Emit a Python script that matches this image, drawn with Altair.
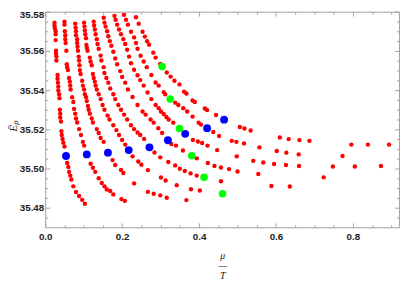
import altair as alt
import pandas as pd

# ---- data (x = mu/T, y = E_P) ----
curve1 = [(0.024,35.5744),(0.024,35.5729),(0.025,35.5714),(0.027,35.5700),(0.027,35.5685),(0.027,35.5655),
          (0.028,35.5601),(0.028,35.5586),(0.029,35.5571),(0.029,35.5551),(0.032,35.5477),(0.032,35.5458),
          (0.033,35.5438),(0.034,35.5418),(0.034,35.5398),(0.036,35.5379),(0.037,35.5359),(0.038,35.5300),
          (0.039,35.5280),(0.039,35.5260),(0.041,35.5240),(0.042,35.5191),(0.043,35.5171),(0.045,35.5151),
          (0.047,35.5132),(0.050,35.5112),(0.057,35.5028),(0.060,35.5008),(0.062,35.4983),(0.065,35.4964),
          (0.068,35.4944),(0.073,35.4909),(0.080,35.4880),(0.088,35.4860),(0.096,35.4840),(0.103,35.4820)]
curve2 = [(0.050,35.5749),(0.050,35.5734),(0.051,35.5700),(0.052,35.5680),(0.052,35.5660),(0.053,35.5640),
          (0.055,35.5601),(0.056,35.5532),(0.057,35.5517),(0.059,35.5502),(0.062,35.5462),(0.064,35.5443),
          (0.065,35.5423),(0.066,35.5403),(0.070,35.5364),(0.073,35.5339),(0.075,35.5304),(0.078,35.5280),
          (0.080,35.5255),(0.083,35.5235),(0.088,35.5201),(0.093,35.5171),(0.098,35.5136),(0.101,35.5117),
          (0.118,35.5024),(0.124,35.5004),(0.130,35.4983),(0.139,35.4950),(0.147,35.4926),(0.154,35.4909),
          (0.160,35.4893),(0.169,35.4885),(0.177,35.4868),(0.198,35.4844),(0.207,35.4835)]
curve3 = [(0.078,35.5739),(0.079,35.5719),(0.080,35.5700),(0.080,35.5680),(0.083,35.5660),(0.083,35.5640),
          (0.084,35.5621),(0.085,35.5601),(0.087,35.5571),(0.088,35.5551),(0.089,35.5527),(0.090,35.5502),
          (0.092,35.5482),(0.096,35.5448),(0.098,35.5423),(0.101,35.5403),(0.103,35.5379),(0.106,35.5364),
          (0.108,35.5344),(0.111,35.5319),(0.113,35.5300),(0.116,35.5280),(0.121,35.5255),(0.124,35.5235),
          (0.134,35.5201),(0.139,35.5181),(0.144,35.5156),(0.152,35.5136),(0.175,35.5043),(0.182,35.5018),
          (0.197,35.4993),(0.203,35.4977),(0.231,35.4924),(0.267,35.4881),(0.282,35.4871),(0.299,35.4863),
          (0.316,35.4851),(0.367,35.4839)]
curve4 = [(0.101,35.5744),(0.102,35.5724),(0.103,35.5705),(0.104,35.5685),(0.106,35.5665),(0.107,35.5630),
          (0.108,35.5616),(0.110,35.5601),(0.116,35.5566),(0.118,35.5546),(0.121,35.5527),(0.124,35.5482),
          (0.126,35.5462),(0.129,35.5443),(0.131,35.5423),(0.134,35.5403),(0.139,35.5379),(0.144,35.5354),
          (0.149,35.5324),(0.154,35.5300),(0.162,35.5270),(0.167,35.5250),(0.177,35.5221),(0.185,35.5196),
          (0.192,35.5171),(0.200,35.5146),(0.208,35.5122),(0.227,35.5062),(0.242,35.5036),(0.250,35.5019),
          (0.267,35.4992),(0.301,35.4954),(0.313,35.4939),(0.342,35.4915),(0.379,35.4894),(0.402,35.4888)]
curve5 = [(0.126,35.5749),(0.127,35.5729),(0.129,35.5709),(0.131,35.5685),(0.134,35.5660),(0.136,35.5635),
          (0.139,35.5611),(0.144,35.5576),(0.146,35.5551),(0.152,35.5517),(0.154,35.5487),(0.159,35.5462),
          (0.164,35.5438),(0.169,35.5408),(0.177,35.5379),(0.182,35.5354),(0.190,35.5324),(0.197,35.5300),
          (0.205,35.5275),(0.213,35.5250),(0.223,35.5221),(0.231,35.5201),(0.240,35.5184),(0.247,35.5171),
          (0.257,35.5151),(0.284,35.5082),(0.299,35.5057),(0.320,35.5033),(0.338,35.5016),(0.350,35.4999),
          (0.363,35.4987),(0.378,35.4975),(0.394,35.4964),(0.457,35.4935),(0.588,35.4911),(0.636,35.4908)]
curve6 = [(0.152,35.5769),(0.154,35.5744),(0.157,35.5724),(0.161,35.5700),(0.164,35.5675),(0.168,35.5650),
          (0.172,35.5626),(0.177,35.5596),(0.182,35.5561),(0.187,35.5532),(0.195,35.5497),(0.200,35.5467),
          (0.208,35.5438),(0.215,35.5403),(0.227,35.5365),(0.240,35.5324),(0.253,35.5291),(0.261,35.5275),
          (0.274,35.5250),(0.282,35.5234),(0.294,35.5206),(0.304,35.5181),(0.328,35.5125),(0.340,35.5117),
          (0.358,35.5092),(0.394,35.5052),(0.423,35.5028),(0.440,35.5013),(0.457,35.5005),(0.478,35.4997),
          (0.500,35.4985),(0.554,35.4972),(0.724,35.4955)]
curve7 = [(0.180,35.5779),(0.183,35.5759),(0.187,35.5734),(0.192,35.5709),(0.197,35.5685),(0.203,35.5660),
          (0.208,35.5635),(0.213,35.5606),(0.218,35.5571),(0.223,35.5537),(0.231,35.5504),(0.240,35.5476),
          (0.247,35.5451),(0.256,35.5423),(0.266,35.5388),(0.276,35.5354),(0.287,35.5324),(0.295,35.5308),
          (0.301,35.5291),(0.308,35.5278),(0.315,35.5263),(0.321,35.5250),(0.333,35.5234),(0.384,35.5146),
          (0.397,35.5138),(0.408,35.5130),(0.422,35.5117),(0.447,35.5094),(0.498,35.5062),(0.541,35.5039),
          (0.567,35.5031),(0.595,35.5023),(0.626,35.5018),(0.660,35.5013),(0.748,35.5010),(0.805,35.5010),
          (0.873,35.5013)]
curve8 = [(0.205,35.5784),(0.210,35.5759),(0.215,35.5734),(0.223,35.5698),(0.231,35.5669),(0.236,35.5640),
          (0.240,35.5611),(0.248,35.5575),(0.256,35.5546),(0.264,35.5517),(0.276,35.5477),(0.287,35.5439),
          (0.295,35.5423),(0.308,35.5390),(0.312,35.5379),(0.338,35.5336),(0.346,35.5324),(0.359,35.5308),
          (0.369,35.5291),(0.383,35.5265),(0.399,35.5234),(0.405,35.5224),(0.437,35.5186),(0.452,35.5166),
          (0.485,35.5141),(0.497,35.5136),(0.517,35.5128),(0.557,35.5108),(0.602,35.5089),(0.627,35.5081),
          (0.659,35.5072),(0.773,35.5064)]
curve9 = [(0.236,35.5772),(0.243,35.5739),(0.253,35.5698),(0.259,35.5673),(0.265,35.5649),(0.270,35.5632),
          (0.281,35.5591),(0.287,35.5566),(0.299,35.5533),(0.316,35.5490),(0.326,35.5469),(0.336,35.5448),
          (0.349,35.5429),(0.361,35.5392),(0.367,35.5383),(0.383,35.5347),(0.389,35.5339),(0.415,35.5306),
          (0.421,35.5298),(0.444,35.5273),(0.506,35.5212),(0.518,35.5204),(0.534,35.5194),(0.610,35.5158),
          (0.633,35.5150),(0.661,35.5145),(0.687,35.5141),(0.796,35.5122),(0.839,35.5122),(0.894,35.5122)]
blue_pts = [(0.054,35.5064),(0.108,35.5072),(0.163,35.5081),(0.217,35.5094),(0.271,35.5108),
            (0.319,35.5144),(0.364,35.5177),(0.421,35.5206),(0.465,35.5249)]
green_pts = [(0.304,35.5520),(0.325,35.5354),(0.349,35.5204),(0.381,35.5065),(0.413,35.4955),(0.461,35.4871)]

x_major = [0.0, 0.2, 0.4, 0.6, 0.8]
x_minor = [0.05, 0.1, 0.15, 0.25, 0.3, 0.35, 0.45, 0.5, 0.55, 0.65, 0.7, 0.75, 0.85, 0.9]
y_major = [35.48, 35.50, 35.52, 35.54, 35.56, 35.58]
y_minor = [35.475, 35.485, 35.49, 35.495, 35.505, 35.51, 35.515, 35.525, 35.53, 35.535,
           35.545, 35.55, 35.555, 35.565, 35.57, 35.575]

curves = [curve1, curve2, curve3, curve4, curve5, curve6, curve7, curve8, curve9]
red_df = pd.DataFrame([{"x": x, "y": y} for c in curves for (x, y) in c])
blue_df = pd.DataFrame([{"x": x, "y": y} for (x, y) in blue_pts])
green_df = pd.DataFrame([{"x": x, "y": y} for (x, y) in green_pts])

xs = alt.Scale(domain=[0, 0.92], nice=False, zero=False)
ys = alt.Scale(domain=[35.47, 35.58], nice=False, zero=False)

MAJ = 4.5
MIN = 2.5

ax_bottom = alt.Axis(orient="bottom", values=x_major, format=".1f", tickSize=MAJ, offset=-MAJ,
                     labelPadding=4, labelFlush=False, title=["μ", "—", "T"],
                     titleBaseline="alphabetic", titleY=36, titleLineHeight=10.5,
                     titleFontSize=10)
ax_left = alt.Axis(orient="left", values=y_major, format=".2f", tickSize=MAJ, offset=-MAJ,
                   labelPadding=1.5, labelFlush=False,
                   labelOffset={"condition": {"test": "datum.value >= 35.579", "value": 3}, "value": 0},
                   title="Ēₚ", titleAngle=270,
                   titleBaseline="middle", titleAlign="center", titleX=-36.5, titleY=116,
                   titleFontSize=11.5)
ax_top = alt.Axis(orient="top", values=x_major, tickSize=MAJ, offset=-MAJ, labels=False, title="")
ax_right = alt.Axis(orient="right", values=y_major, tickSize=MAJ, offset=-MAJ, labels=False, title="")
ax_bottom_m = alt.Axis(orient="bottom", values=x_minor, tickSize=MIN, offset=-MIN, labels=False, title="")
ax_left_m = alt.Axis(orient="left", values=y_minor, tickSize=MIN, offset=-MIN, labels=False, title="")
ax_top_m = alt.Axis(orient="top", values=x_minor, tickSize=MIN, offset=-MIN, labels=False, title="")
ax_right_m = alt.Axis(orient="right", values=y_minor, tickSize=MIN, offset=-MIN, labels=False, title="")

red = alt.Chart(red_df).mark_circle(size=20, color="#ff0000", opacity=1).encode(
    x=alt.X("x:Q", scale=xs, axis=ax_bottom), y=alt.Y("y:Q", scale=ys, axis=ax_left))
frame_tr = alt.Chart(red_df).mark_circle(opacity=0).encode(
    x=alt.X("x:Q", scale=xs, axis=ax_top), y=alt.Y("y:Q", scale=ys, axis=ax_right))
minor_bl = alt.Chart(red_df).mark_circle(opacity=0).encode(
    x=alt.X("x:Q", scale=xs, axis=ax_bottom_m), y=alt.Y("y:Q", scale=ys, axis=ax_left_m))
minor_tr = alt.Chart(red_df).mark_circle(opacity=0).encode(
    x=alt.X("x:Q", scale=xs, axis=ax_top_m), y=alt.Y("y:Q", scale=ys, axis=ax_right_m))
blue = alt.Chart(blue_df).mark_circle(size=64, color="#0000ff", opacity=1).encode(
    x=alt.X("x:Q", scale=xs, axis=None), y=alt.Y("y:Q", scale=ys, axis=None))
green = alt.Chart(green_df).mark_circle(size=60, color="#00ff00", opacity=1).encode(
    x=alt.X("x:Q", scale=xs, axis=None), y=alt.Y("y:Q", scale=ys, axis=None))

chart = alt.layer(red, frame_tr, minor_bl, minor_tr, blue, green).resolve_axis(
    x="independent", y="independent"
).properties(
    width=361, height=220,
    autosize=alt.AutoSizeParams(type="none"),
    padding={"left": 38, "top": 1, "right": 2, "bottom": 52},
).configure_view(
    stroke="#a0a0a0", strokeWidth=1
).configure_axis(
    domain=False, grid=False, tickColor="#a0a0a0", tickWidth=1,
    labelFont="Liberation Sans", labelFontWeight="bold", labelFontSize=10, labelColor="#222222",
    titleFont="Liberation Serif", titleFontStyle="italic", titleFontWeight="normal",
    titleFontSize=11, titleColor="#222222"
)

chart.save("out.html", embed_options={"renderer": "svg", "actions": False})
